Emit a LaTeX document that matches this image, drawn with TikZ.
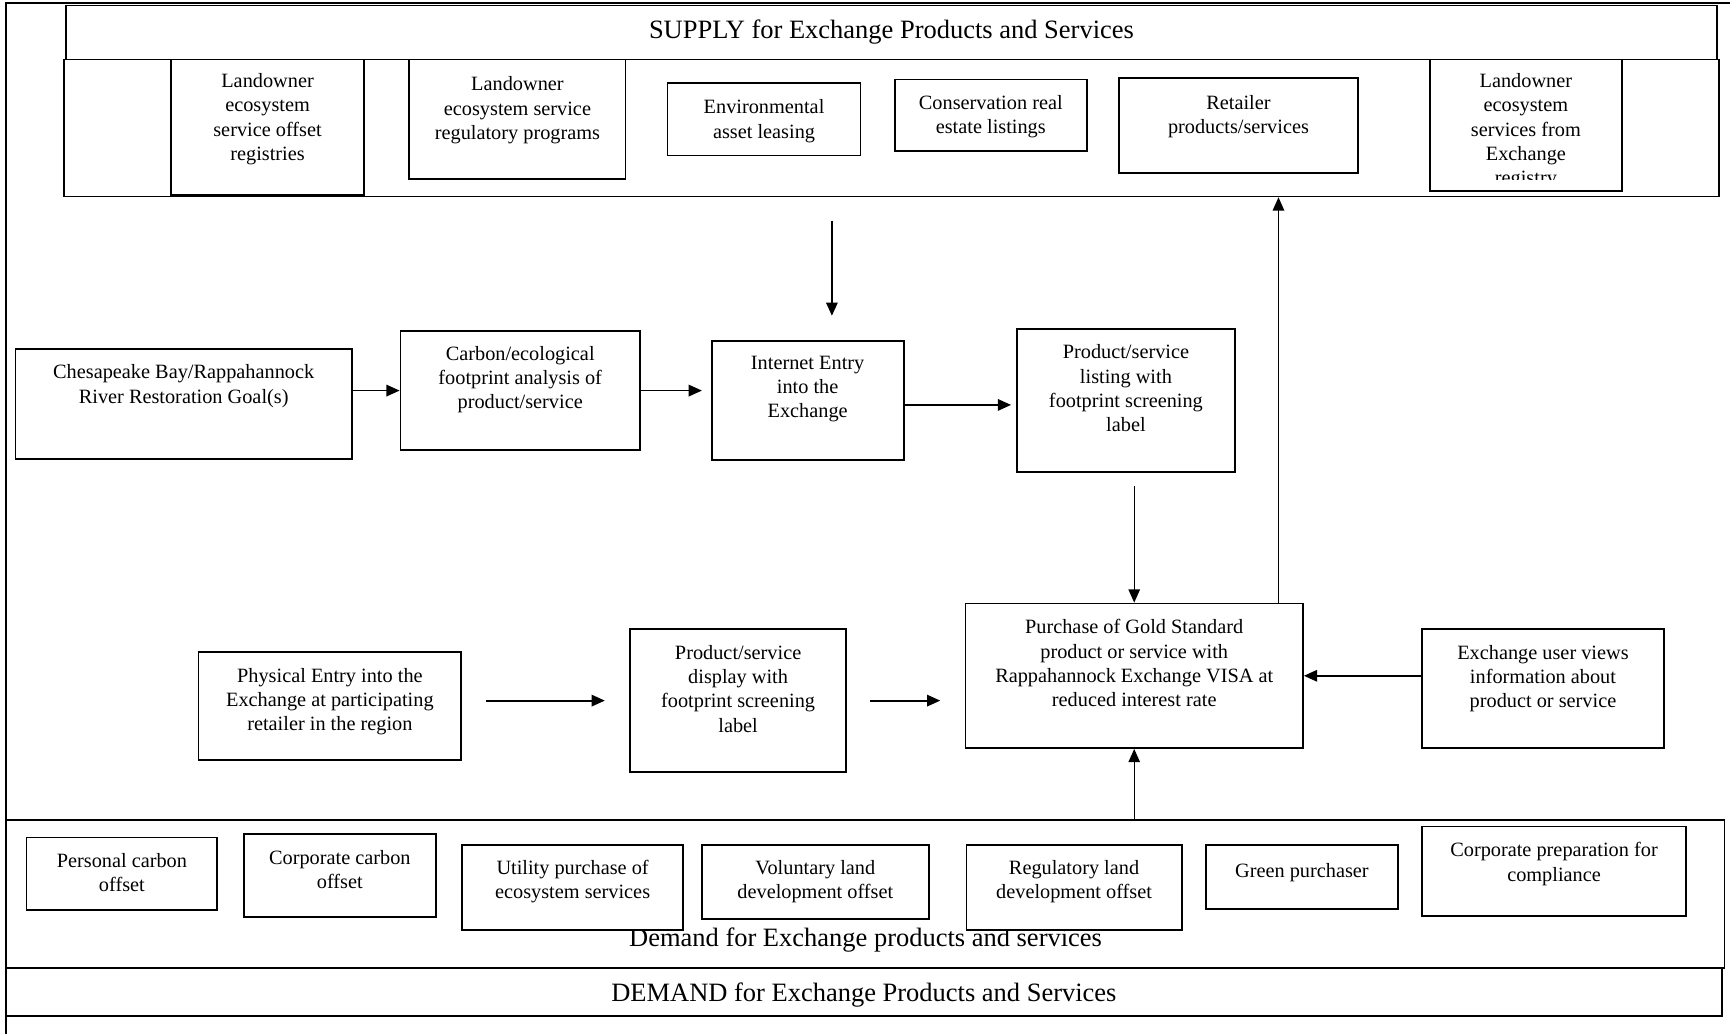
\documentclass[tikz,border=0pt]{standalone}
\usepackage{fontspec}
\setmainfont{Liberation Serif}
\usetikzlibrary{arrows.meta}
\newcommand\placebox[6]{%
  \pgfmathsetmacro\mybw{(#5-#3)*0.625}%
  \pgfmathsetmacro\mybh{(#6-#4)*0.625}%
  \node[#1, minimum width=\mybw pt, minimum height=\mybh pt] (#2) at ({(#3+#5)/2},{(#4+#6)/2})}
\newcommand\boxtext[3][21]{%
  \pgfmathsetmacro\mytoff{(#1-6)*0.625}%
  \node[txt, anchor=north] (#2t) at ([yshift=-\mytoff pt]#2.north) {#3};}
\begin{document}
\begin{tikzpicture}[x=0.625pt, y=-0.625pt,
  boxst/.style={draw, line width=1pt, fill=white, rectangle, inner sep=0pt},
  txt/.style={align=center, inner sep=0pt, font=\fontsize{11.5}{13.8}\selectfont, execute at begin node=\strut},
  hdr/.style={inner sep=0pt, font=\fontsize{15}{18}\selectfont},
  frame/.style={draw, line width=1pt, rectangle, inner sep=0pt},
  arr/.style={line width=1pt, -{Triangle[length=7.5pt,width=6.5pt]}},
  arrthin/.style={line width=0.7pt, -{Triangle[length=7.5pt,width=6.5pt]}}]
\useasboundingbox (0,0) rectangle (1568,937);
% outer frame lines
\coordinate (ob) at (5.5,937);
\coordinate (ol) at (5.5,3);
\coordinate (or) at (1568,3);
\draw[line width=1pt] (ob) -- (ol) -- (or);
% supply frames
\placebox{frame}{supreg}{58}{54}{1558}{178} {};
\placebox{frame}{suphdr}{60}{5}{1556}{54} {};
\node[hdr, anchor=base] (suptxt) at (808,35) {SUPPLY for Exchange Products and Services};
% demand frames
\placebox{frame}{demreg}{5.5}{743}{1563}{877} {};
\placebox{frame}{demhdr}{5.5}{877}{1561}{921} {};
\node[hdr, anchor=base] (demhtxt) at (783,908) {DEMAND for Exchange Products and Services};
\node[hdr, anchor=base] (demtxt) at (784.5,858) {Demand for Exchange products and services};
% supply boxes
\placebox{boxst}{s1}{155}{54}{330}{177} {};
\boxtext[19]{s1}{Landowner\\ecosystem\\service offset\\registries}
\placebox{boxst}{s2}{371}{54}{567}{162} {};
\boxtext[22]{s2}{Landowner\\ecosystem service\\regulatory programs}
\placebox{boxst}{s3}{605}{75}{780}{141} {};
\boxtext[22]{s3}{Environmental\\asset leasing}
\placebox{boxst}{s4}{811}{72}{985}{137} {};
\boxtext[21]{s4}{Conservation real\\estate listings}
\placebox{boxst}{s5}{1014}{71}{1231}{157} {};
\boxtext[22]{s5}{Retailer\\products/services}
\placebox{boxst}{s6}{1296}{54}{1470}{173} {};
\begin{scope}
\clip ([xshift=1pt]s6.north west) rectangle ([yshift=6.8pt]s6.south east);
\boxtext[19]{s6}{Landowner\\ecosystem\\services from\\Exchange\\registry}
\end{scope}
% middle row
\placebox{boxst}{m1}{14}{316}{319}{416} {};
\boxtext[21]{m1}{Chesapeake Bay/Rappahannock\\River Restoration Goal(s)}
\placebox{boxst}{m2}{363}{300}{580}{408} {};
\boxtext[20]{m2}{Carbon/ecological\\footprint analysis of\\product/service}
\placebox{boxst}{m3}{645}{309}{819}{417} {};
\boxtext[20]{m3}{Internet Entry\\into the\\Exchange}
\placebox{boxst}{m4}{922}{298}{1119}{428} {};
\boxtext[21]{m4}{Product/service\\listing with\\footprint screening\\label}
% lower row
\placebox{boxst}{l1}{180}{591}{418}{689} {};
\boxtext[21]{l1}{Physical Entry into the\\Exchange at participating\\retailer in the region}
\placebox{boxst}{l2}{571}{570}{767}{700} {};
\boxtext[21]{l2}{Product/service\\display with\\footprint screening\\label}
\placebox{boxst}{l3}{875}{547}{1181}{678} {};
\boxtext[21]{l3}{Purchase of Gold Standard\\product or service with\\Rappahannock Exchange VISA at\\reduced interest rate}
\placebox{boxst}{l4}{1289}{570}{1508}{678} {};
\boxtext[21]{l4}{Exchange user views\\information about\\product or service}
% demand boxes
\placebox{boxst}{d1}{24}{759}{197}{825} {};
\boxtext[21]{d1}{Personal carbon\\offset}
\placebox{boxst}{d2}{221}{756}{395}{831} {};
\boxtext[21]{d2}{Corporate carbon\\offset}
\placebox{boxst}{d3}{419}{766}{619}{843} {};
\boxtext[20]{d3}{Utility purchase of\\ecosystem services}
\placebox{boxst}{d4}{636}{766}{842}{833} {};
\boxtext[20]{d4}{Voluntary land\\development offset}
\placebox{boxst}{d5}{876}{766}{1071}{843} {};
\boxtext[20]{d5}{Regulatory land\\development offset}
\placebox{boxst}{d6}{1093}{766}{1267}{824} {};
\boxtext[20]{d6}{Green purchaser}
\placebox{boxst}{d7}{1289}{749}{1528}{830} {};
\boxtext[21]{d7}{Corporate preparation for\\compliance}
% connectors
\draw[arr] (m1.east |- m2.west) -- (m2.west);
\draw[arr, shorten >=5pt] (m2.east) -- (m2.east -| m3.west);
\draw[arr, shorten >=3pt] ([yshift=-2.5pt]m3.east) -- ([yshift=-2.5pt]m3.east -| m4.west);
\coordinate (intop) at (754,200);
\draw[arr, shorten >=13.75pt] (intop) -- (intop |- m3.north);
\draw[arrthin, shorten <=7.5pt] (l3.north |- m4.south) -- (l3.north);
\draw[arrthin] ([xshift=-14.4pt]l3.north east) -- ([xshift=-14.4pt]l3.north east |- supreg.south);
\draw[arr, shorten <=13.75pt, shorten >=13.75pt] (l1.east |- l2.west) -- (l2.west);
\draw[arr, shorten <=13pt, shorten >=13.75pt] (l2.east) -- (l2.east -| l3.west);
\draw[arr] (l3.east -| l4.west) -- (l3.east);
\draw[arrthin] (l3.south |- demreg.north) -- (l3.south);
\end{tikzpicture}
\end{document}
